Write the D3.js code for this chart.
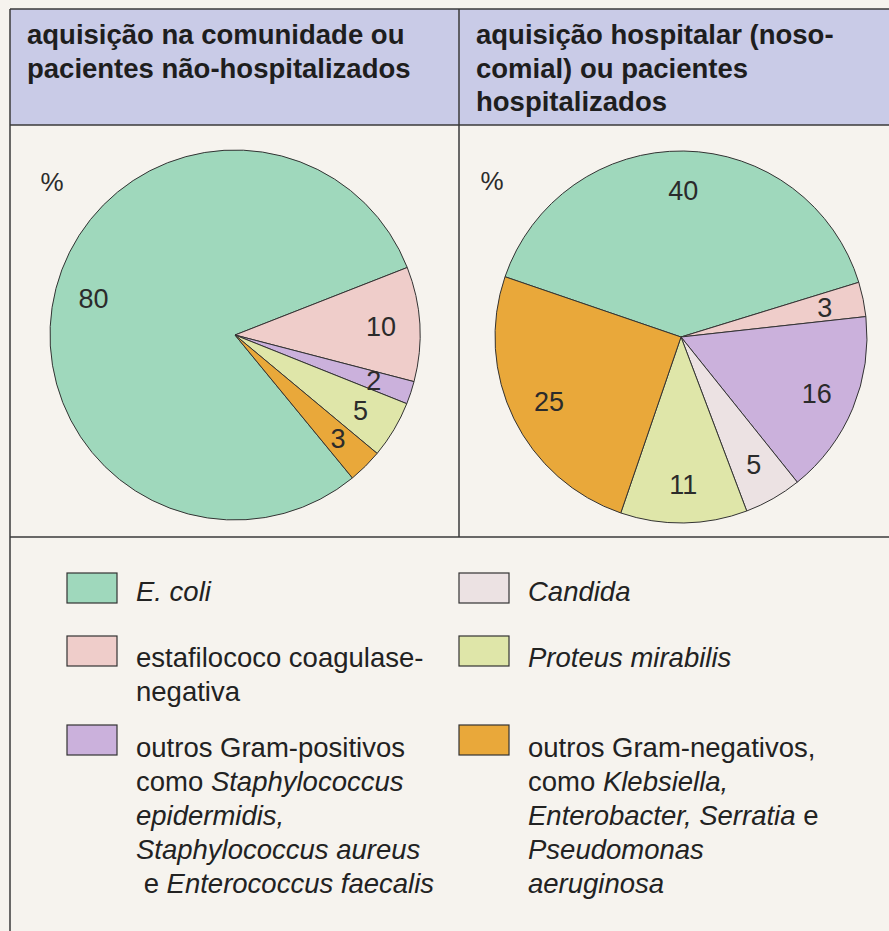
<!DOCTYPE html>
<html>
<head>
<meta charset="utf-8">
<script src="https://cdn.jsdelivr.net/npm/d3@7"></script>
<style>
  body { margin: 0; background: #f6f3ee; }
  svg { display: block; }
  text { font-family: "Liberation Sans", Arial, Helvetica, sans-serif; }
</style>
</head>
<body>
<div id="chart"></div>
<script>
// categories, in the order the slices run clockwise
var categories = ["E. coli", "estafilococo coagulase-negativa", "outros Gram-positivos",
                  "Candida", "Proteus mirabilis", "outros Gram-negativos"];

// % per category
var communityValues = [80, 10, 2, 0, 5, 3];
var hospitalValues  = [40, 3, 16, 5, 11, 25];

// panel titles
var communityTitle = ["aquisição na comunidade ou", "pacientes não-hospitalizados"];
var hospitalTitle  = ["aquisição hospitalar (noso-", "comial) ou pacientes", "hospitalizados"];

// legend lines: each line is a list of [text, italic]
var legendLines = [
  [[["E. coli", true]]],
  [[["estafilococo coagulase-", false]], [["negativa", false]]],
  [[["outros Gram-positivos", false]],
   [["como ", false], ["Staphylococcus", true]],
   [["epidermidis,", true]],
   [["Staphylococcus aureus", true]],
   [["\u00a0e ", false], ["Enterococcus faecalis", true]]],
  [[["Candida", true]]],
  [[["Proteus mirabilis", true]]],
  [[["outros Gram-negativos,", false]],
   [["como ", false], ["Klebsiella,", true]],
   [["Enterobacter, Serratia", true], [" e", false]],
   [["Pseudomonas", true]],
   [["aeruginosa", true]]]
];

var colors = ["#9fd8bc", "#efcdca", "#cbb1dc", "#ece2e3", "#dfe6a9", "#e9a83a"];
var color = d3.scaleOrdinal().domain(categories).range(colors);

var width = 889, height = 931;
var lineColor = "#3a3a3a";

var svg = d3.select("#chart").append("svg")
    .attr("width", width)
    .attr("height", height);

svg.append("rect").attr("width", width).attr("height", height).attr("fill", "#f6f3ee");

// header band
var frameLeft = 10, frameMid = 459, frameTop = 9, headBottom = 125, sep = 537;
svg.append("rect")
    .attr("x", frameLeft).attr("y", frameTop)
    .attr("width", width - frameLeft).attr("height", headBottom - frameTop)
    .attr("fill", "#c9cbe7");

// frame lines
var lines = [
  [frameLeft, frameTop, width, frameTop],
  [frameLeft, headBottom, width, headBottom],
  [frameLeft, sep, width, sep],
  [frameLeft, frameTop, frameLeft, height],
  [frameMid, frameTop, frameMid, sep]
];
svg.selectAll(".frame").data(lines).enter().append("line")
    .attr("class", "frame")
    .attr("x1", function(d) { return d[0]; })
    .attr("y1", function(d) { return d[1]; })
    .attr("x2", function(d) { return d[2]; })
    .attr("y2", function(d) { return d[3]; })
    .attr("stroke", lineColor)
    .attr("stroke-width", 1.5);

// titles
function title(lines, x) {
  svg.append("g").selectAll("text").data(lines).enter().append("text")
      .attr("x", x)
      .attr("y", function(d, i) { return 44 + i * 33.5; })
      .attr("font-size", 27.5)
      .attr("font-weight", "bold")
      .attr("fill", "#1e1e1e")
      .text(function(d) { return d; });
}
title(communityTitle, 27);
title(hospitalTitle, 476);

// pies
function pieChart(values, cx, cy, r, start) {
  var data = categories.map(function(c, i) { return {cat: c, value: values[i]}; });
  var pie = d3.pie()
      .sort(null)
      .value(function(d) { return d.value; })
      .startAngle(start * Math.PI / 180)
      .endAngle(start * Math.PI / 180 + 2 * Math.PI);
  var arcs = pie(data).filter(function(d) { return d.data.value > 0; });
  var arc = d3.arc().innerRadius(0).outerRadius(r);
  var labelArc = d3.arc().innerRadius(r * 0.79).outerRadius(r * 0.79);

  var g = svg.append("g").attr("transform", "translate(" + cx + "," + cy + ")");
  g.selectAll("path").data(arcs).enter().append("path")
      .attr("d", arc)
      .attr("fill", function(d) { return color(d.data.cat); })
      .attr("stroke", "#333")
      .attr("stroke-width", 1)
      .attr("stroke-linejoin", "round");

  g.selectAll(".lbl").data(arcs).enter().append("text")
      .attr("class", "lbl")
      .attr("transform", function(d) { return "translate(" + labelArc.centroid(d) + ")"; })
      .attr("text-anchor", "middle")
      .attr("dy", "0.36em")
      .attr("font-size", 27)
      .attr("fill", "#2b2b2b")
      .text(function(d) { return d.data.value; });
}
pieChart(communityValues, 235, 335, 185, 140.6);
pieChart(hospitalValues, 681, 337, 186, 288.9);

// % marks
[[52, 182], [492, 181]].forEach(function(p) {
  svg.append("text")
      .attr("x", p[0]).attr("y", p[1])
      .attr("dy", "0.36em")
      .attr("text-anchor", "middle")
      .attr("font-size", 26)
      .attr("fill", "#2b2b2b")
      .text("%");
});

// legend: two columns of three
var colX = [67, 459], rowY = [573, 636, 725];
var legend = svg.append("g");
categories.forEach(function(c, i) {
  var col = Math.floor(i / 3), row = i % 3;
  var x = colX[col], y = rowY[row];
  legend.append("rect")
      .attr("x", x).attr("y", y)
      .attr("width", 50).attr("height", 30)
      .attr("fill", color(c))
      .attr("stroke", "#333")
      .attr("stroke-width", 1.2);
  legendLines[i].forEach(function(line, j) {
    var t = legend.append("text")
        .attr("x", x + 69)
        .attr("y", y + (row == 0 ? 28 : row == 1 ? 31 : 32) + j * 34)
        .attr("font-size", 27.5)
        .attr("fill", "#222");
    t.selectAll("tspan").data(line).enter().append("tspan")
        .attr("font-style", function(d) { return d[1] ? "italic" : "normal"; })
        .text(function(d) { return d[0]; });
  });
});
</script>
</body>
</html>
